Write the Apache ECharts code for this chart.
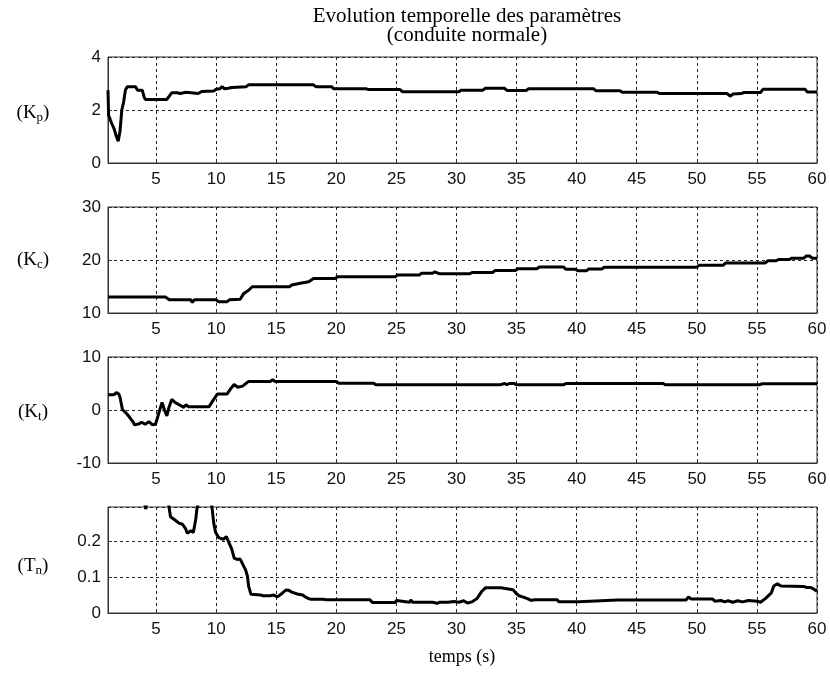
<!DOCTYPE html>
<html>
<head>
<meta charset="utf-8">
<script src="https://cdn.jsdelivr.net/npm/echarts@6/dist/echarts.min.js"></script>
<style>html,body{margin:0;padding:0;background:#fff}#c{width:830px;height:677px}</style>
</head>
<body>
<div id="c"></div>
<script>
// ---- data (time s, value) ----
const kp = [[1,2.75],[1.05,1.8],[1.3,1.5],[1.5,1.3],[1.7,1.0],[1.85,0.82],[2.0,1.2],[2.15,2.0],[2.3,2.3],[2.45,2.75],[2.6,2.88],[3.3,2.88],[3.45,2.75],[3.6,2.78],[3.85,2.75],[4.0,2.5],[4.1,2.4],[5.9,2.4],[6.3,2.65],[6.8,2.65],[7.0,2.62],[7.5,2.67],[7.6,2.62],[8.5,2.62],[8.8,2.7],[9.8,2.72],[10.0,2.78],[10.3,2.8],[10.5,2.88],[10.7,2.8],[11.0,2.82],[11.3,2.85],[12.5,2.88],[12.7,2.95],[18.1,2.95],[18.3,2.88],[19.6,2.88],[19.8,2.8],[22.5,2.8],[22.7,2.77],[25.3,2.77],[25.5,2.69],[30.2,2.69],[30.4,2.75],[32.2,2.75],[32.4,2.82],[34.0,2.82],[34.2,2.74],[35.8,2.74],[36.0,2.8],[41.4,2.8],[41.6,2.73],[43.6,2.73],[43.8,2.67],[46.7,2.67],[46.9,2.62],[52.5,2.62],[52.8,2.52],[53.0,2.6],[53.7,2.62],[53.9,2.66],[55.3,2.66],[55.5,2.78],[59.0,2.78],[59.2,2.68],[60,2.68]];
const kc = [[1,13.0],[5.8,13.0],[6.1,12.5],[7.9,12.5],[8.0,12.0],[8.2,12.5],[10.0,12.5],[10.2,12.1],[10.9,12.1],[11.1,12.5],[12.0,12.6],[12.3,13.7],[12.7,14.3],[13.0,14.95],[16.1,14.95],[16.3,15.3],[17.0,15.6],[17.7,15.9],[18.1,16.5],[19.9,16.5],[20.1,16.85],[24.9,16.85],[25.1,17.15],[26.9,17.15],[27.1,17.5],[28.0,17.5],[28.2,17.75],[28.6,17.4],[31.1,17.4],[31.3,17.65],[33.0,17.65],[33.2,18.0],[34.9,18.0],[35.1,18.35],[36.7,18.35],[36.9,18.7],[38.9,18.7],[39.1,18.25],[39.9,18.25],[40.1,17.95],[40.8,17.95],[41.0,18.3],[42.1,18.3],[42.3,18.65],[50.0,18.65],[50.2,19.0],[52.2,19.0],[52.4,19.45],[55.7,19.45],[55.9,19.85],[56.6,19.85],[56.8,20.1],[57.7,20.1],[57.9,20.35],[58.9,20.35],[59.1,20.75],[59.4,20.75],[59.6,20.35],[60,20.35]];
const kt = [[1,2.9],[1.5,2.9],[1.7,3.3],[1.9,3.0],[2.0,2.4],[2.2,0.1],[2.6,-0.8],[3.1,-2.3],[3.2,-2.8],[3.6,-2.6],[3.8,-2.3],[4.1,-2.7],[4.4,-2.2],[4.7,-2.8],[4.95,-2.7],[5.1,-1.6],[5.3,0.0],[5.5,1.4],[5.7,0.0],[5.9,-1.1],[6.05,0.3],[6.3,2.0],[6.6,1.4],[7.0,0.9],[7.3,0.5],[7.5,1.0],[7.7,0.6],[9.4,0.6],[9.8,2.0],[10.1,3.0],[10.9,3.0],[11.2,4.0],[11.5,4.8],[11.8,4.3],[12.2,4.5],[12.7,5.4],[14.5,5.4],[14.7,5.7],[14.9,5.4],[20.0,5.4],[20.2,5.05],[23.1,5.05],[23.3,4.75],[33.6,4.75],[33.7,5.0],[34.0,5.0],[34.2,4.8],[34.4,5.0],[34.8,5.0],[35.0,4.75],[38.9,4.75],[39.1,5.0],[47.2,5.0],[47.4,4.75],[55.2,4.75],[55.4,4.95],[60,4.95]];
const tn = [[1,0.45],[2.5,0.42],[3.8,0.34],[4.15,0.289],[4.3,0.33],[5.5,0.36],[6.06,0.3],[6.2,0.268],[6.6,0.258],[6.9,0.25],[7.2,0.247],[7.45,0.235],[7.6,0.222],[7.9,0.229],[8.1,0.224],[8.3,0.26],[8.4,0.29],[8.55,0.31],[9.0,0.34],[9.6,0.31],[9.8,0.25],[9.95,0.225],[10.2,0.21],[10.6,0.205],[10.85,0.213],[11.06,0.196],[11.3,0.178],[11.5,0.153],[11.75,0.149],[12.0,0.15],[12.25,0.133],[12.45,0.12],[12.6,0.103],[12.7,0.075],[12.9,0.052],[13.7,0.05],[13.9,0.048],[14.5,0.048],[14.8,0.05],[15.1,0.045],[15.5,0.055],[15.8,0.064],[16.05,0.063],[16.3,0.058],[16.75,0.053],[17.2,0.05],[17.45,0.044],[17.7,0.04],[17.9,0.038],[18.85,0.038],[19.0,0.033],[19.2,0.037],[22.8,0.037],[23.0,0.029],[24.9,0.029],[25.0,0.035],[25.15,0.03],[26.1,0.03],[26.2,0.036],[26.35,0.03],[26.8,0.03],[26.9,0.035],[27.0,0.03],[27.8,0.03],[27.9,0.034],[28.0,0.03],[28.4,0.027],[28.6,0.03],[29.1,0.03],[29.2,0.034],[29.3,0.03],[29.8,0.032],[29.9,0.036],[30.2,0.03],[30.6,0.034],[30.9,0.028],[31.3,0.031],[31.7,0.04],[32.1,0.06],[32.4,0.07],[33.7,0.07],[33.8,0.065],[34.7,0.065],[34.95,0.055],[35.2,0.048],[35.5,0.045],[35.9,0.04],[36.2,0.035],[36.5,0.037],[38.4,0.037],[38.5,0.031],[40.2,0.031],[40.3,0.036],[43.4,0.036],[43.5,0.033],[43.6,0.036],[45.5,0.036],[45.6,0.032],[45.7,0.036],[49.1,0.036],[49.3,0.045],[49.5,0.039],[51.3,0.039],[51.5,0.033],[52.0,0.035],[52.3,0.031],[52.6,0.034],[53.0,0.03],[53.4,0.034],[53.8,0.031],[54.3,0.035],[55.0,0.033],[55.3,0.03],[55.7,0.04],[56.2,0.056],[56.4,0.075],[56.7,0.081],[57.0,0.075],[58.9,0.074],[59.1,0.071],[59.5,0.071],[59.9,0.063],[60,0.06]];

const yRanges = [
  {min: 0, max: 4, interval: 2, hideMax: false},
  {min: 10, max: 30, interval: 10, hideMax: false},
  {min: -10, max: 10, interval: 10, hideMax: false},
  {min: 0, max: 0.295, interval: 0.1, hideMax: true}
];
const seriesData = [kp, kc, kt, tn];
const yNames = [['K','p'], ['K','c'], ['K','t'], ['T','n']];
const titleLines = ['Evolution temporelle des paramètres', '(conduite normale)'];
const xName = 'temps (s)';

// ---- layout ----
const tops = [57, 207, 357, 507];
const H = 106, L = 108, R = 13;
const sans = 'Liberation Sans, Arial, sans-serif';
const serif = 'Liberation Serif, Times New Roman, serif';
const dash = {color: '#222', width: 1, type: [3, 3]};

const grid = [], xAxis = [], yAxis = [], series = [];
for (let i = 0; i < 4; i++) {
  grid.push({left: L, right: R, top: tops[i], height: H, show: true, borderColor: '#333', borderWidth: 1, backgroundColor: 'transparent'});
  xAxis.push({
    type: 'value', gridIndex: i, min: 1, max: 60, splitNumber: 12,
    axisLine: {show: true, onZero: false, lineStyle: {color: '#333'}},
    axisTick: {show: true, inside: true, length: 4, lineStyle: {color: '#333'}},
    axisLabel: {fontFamily: sans, fontSize: 17, color: '#111', margin: 8, showMinLabel: false},
    splitLine: {show: true, lineStyle: dash}
  });
  const r = yRanges[i];
  yAxis.push({
    type: 'value', gridIndex: i, min: r.min, max: r.max, interval: r.interval,
    axisLine: {show: true, onZero: false, lineStyle: {color: '#333'}},
    axisTick: {show: true, inside: true, length: 4, lineStyle: {color: '#333'}},
    axisLabel: {fontFamily: sans, fontSize: 17, color: '#111', margin: 7, showMaxLabel: !r.hideMax},
    splitLine: {show: true, lineStyle: dash}
  });
  series.push({
    type: 'line', xAxisIndex: i, yAxisIndex: i, data: seriesData[i],
    showSymbol: false, symbol: 'none', clip: true, animation: false,
    lineStyle: {color: '#000', width: 3}
  });
}

const nameY = [113, 260, 412, 566];
const graphic = [];
for (let i = 0; i < 4; i++) {
  graphic.push({
    type: 'text', x: 33, y: nameY[i],
    style: {
      text: '{a|(' + yNames[i][0] + '}{s|' + yNames[i][1] + '}{a|)}',
      align: 'center', verticalAlign: 'middle',
      rich: {
        a: {fontFamily: serif, fontSize: 19, color: '#000', lineHeight: 22},
        s: {fontFamily: serif, fontSize: 13, color: '#000', lineHeight: 12, verticalAlign: 'bottom'}
      }
    }
  });
}
graphic.push({type: 'text', x: 467, y: 16, style: {text: titleLines[0], fontFamily: serif, fontSize: 21, fill: '#000', align: 'center', verticalAlign: 'middle'}});
graphic.push({type: 'text', x: 467, y: 35, style: {text: titleLines[1], fontFamily: serif, fontSize: 21, fill: '#000', align: 'center', verticalAlign: 'middle'}});
graphic.push({type: 'text', x: 462, y: 657, style: {text: xName, fontFamily: serif, fontSize: 18, fill: '#000', align: 'center', verticalAlign: 'middle'}});

const chart = echarts.init(document.getElementById('c'), null, {renderer: 'canvas'});
chart.setOption({animation: false, backgroundColor: '#fff', grid, xAxis, yAxis, series, graphic});
</script>
</body>
</html>
